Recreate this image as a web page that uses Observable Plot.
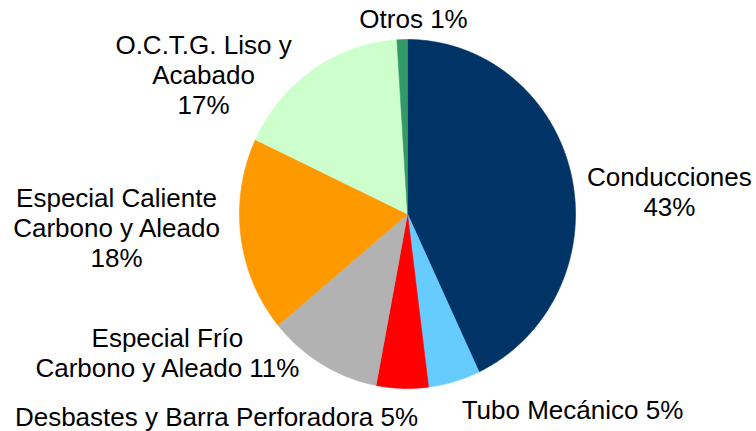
<!DOCTYPE html>
<html>
<head>
<meta charset="utf-8">
<script src="https://cdn.jsdelivr.net/npm/d3@7"></script>
<script src="https://cdn.jsdelivr.net/npm/@observablehq/plot@0.6"></script>
<style>
  html, body { margin: 0; padding: 0; background: #ffffff; }
  #chart svg { display: block; }
</style>
</head>
<body>
<div id="chart"></div>
<script>
// Categories (clockwise from 12 o'clock)
const categories = [
  "Conducciones",
  "Tubo Mecánico",
  "Desbastes y Barra Perforadora",
  "Especial Frío Carbono y Aleado",
  "Especial Caliente Carbono y Aleado",
  "O.C.T.G. Liso y Acabado",
  "Otros"
];
// Shares (%)
const shares = [43, 5, 5, 11, 18, 17, 1];
// Slice colours
const colors = ["#003366", "#66CCFF", "#FF0000", "#B2B2B2", "#FF9900", "#CCFFCC", "#339966"];
// Label texts as printed
const labels = [
  "Conducciones\n43%",
  "Tubo Mecánico 5%",
  "Desbastes y Barra Perforadora 5%",
  "Especial Frío\nCarbono y Aleado 11%",
  "Especial Caliente\nCarbono y Aleado\n18%",
  "O.C.T.G. Liso y\nAcabado\n17%",
  "Otros 1%"
];
// Label anchor positions in pie units (x right, y up; radius = 1)
const labelX = [1.559, 0.982, -1.137, -1.429, -1.732, -1.214, 0.036];
const labelY = [0.129, -1.120, -1.158, -0.794, -0.077, 0.799, 1.120];

// Build slice polygons from the shares
const total = d3.sum(shares);
const slices = [];
let acc = 0;
categories.forEach((cat, i) => {
  const a0 = acc / total * 2 * Math.PI;
  acc += shares[i];
  const a1 = acc / total * 2 * Math.PI;
  const n = Math.max(2, Math.ceil((a1 - a0) / (Math.PI / 360)));
  slices.push({cat, x: 0, y: 0});
  for (let k = 0; k <= n; k++) {
    const a = a0 + (a1 - a0) * k / n;
    slices.push({cat, x: Math.sin(a), y: Math.cos(a)});
  }
  slices.push({cat, x: 0, y: 0});
});

const labelData = categories.map((cat, i) => ({cat, text: labels[i], x: labelX[i], y: labelY[i]}));

const chart = Plot.plot({
  width: 756,
  height: 431,
  marginLeft: 239,
  marginRight: 181,
  marginTop: 39,
  marginBottom: 43,
  x: {domain: [-1, 1], axis: null},
  y: {domain: [-1, 1], axis: null},
  color: {domain: categories, range: colors},
  style: {fontFamily: "'Liberation Sans', Arial, sans-serif", background: "#ffffff"},
  marks: [
    Plot.line(slices, {x: "x", y: "y", z: "cat", fill: "cat", stroke: "cat", strokeWidth: 0.6, curve: "linear"}),
    Plot.text(labelData, {
      x: "x", y: "y", text: "text",
      fontSize: 26, lineHeight: 1.15, fill: "#000000",
      textAnchor: "middle", lineAnchor: "middle"
    })
  ]
});
document.getElementById("chart").appendChild(chart);
</script>
</body>
</html>
